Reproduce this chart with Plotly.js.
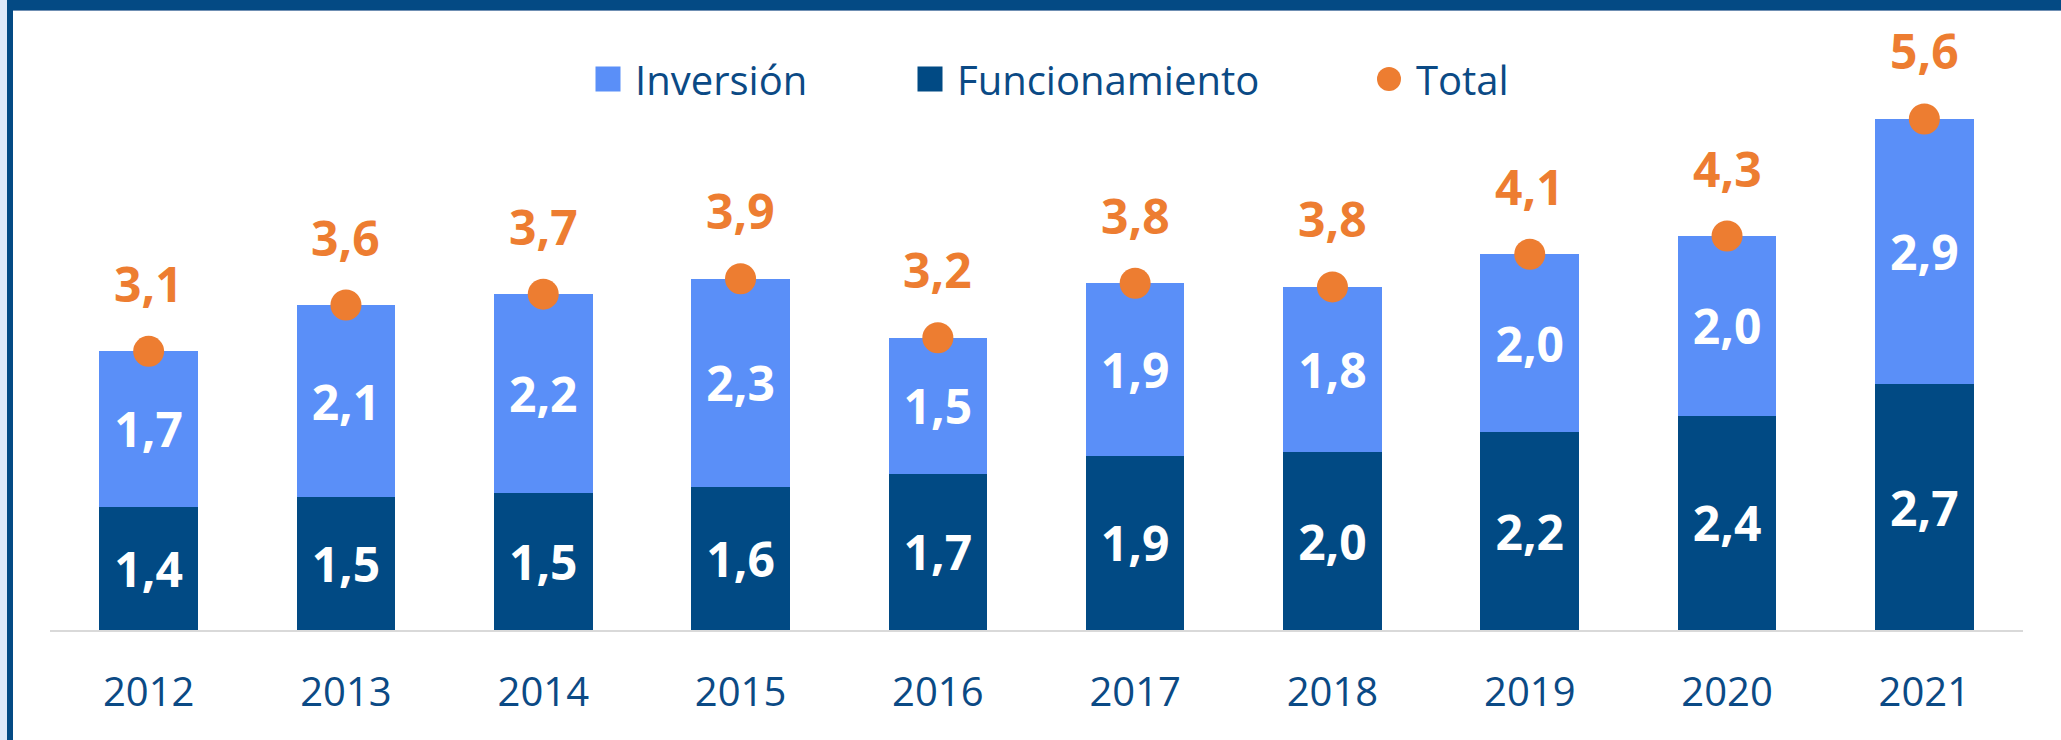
<!DOCTYPE html>
<html>
<head>
<meta charset="utf-8">
<script src="https://cdn.plot.ly/plotly-3.0.1.min.js"></script>
<style>
  html, body { margin: 0; padding: 0; background: #ffffff; }
  #wrap { position: relative; width: 2061px; height: 740px; overflow: hidden; background: #ffffff; }
  #chart { position: absolute; left: 0; top: 0; width: 2061px; height: 740px; }
  .strip { position: absolute; z-index: 5; }
</style>
</head>
<body>
<div id="wrap">
  <div id="chart"></div>
  <div class="strip" style="left:0;top:0;width:7px;height:740px;background:#dfe9f9;"></div>
  <div class="strip" style="left:7px;top:0;width:6px;height:740px;background:#044a84;"></div>
  <div class="strip" style="left:7px;top:0;width:2054px;height:10px;background:#044a84;"></div>
  <div class="strip" style="left:13px;top:10px;width:2048px;height:1px;background:#6f8fb3;"></div>
</div>
<script>
// ---- data (billones) ----
const years = ['2012','2013','2014','2015','2016','2017','2018','2019','2020','2021'];
const funcionamiento = [1.36, 1.46, 1.51, 1.58, 1.72, 1.92, 1.96, 2.18, 2.36, 2.71];
const inversion      = [1.71, 2.12, 2.19, 2.29, 1.50, 1.90, 1.82, 1.96, 1.98, 2.92];
const total = funcionamiento.map((v, i) => Math.round((v + inversion[i]) * 100) / 100);

const DARK = '#014a84';
const LIGHT = '#5a8ff8';
const ORANGE = '#ed7d31';
const TXT = '#0b4a85';
const FONT = 'Open Sans, Noto Sans, sans-serif';

const fmt = v => (Math.round(v * 10) / 10).toFixed(1).replace('.', ',');

const traces = [
  {
    type: 'bar', name: 'Funcionamiento', x: years, y: funcionamiento,
    marker: { color: DARK },
    texttemplate: '%{y:.1f}', textposition: 'inside', insidetextanchor: 'middle',
    textangle: 0, constraintext: 'none',
    textfont: { family: FONT, size: 48, color: '#ffffff', weight: 'bold' },
    legend: 'legend2', hoverinfo: 'skip'
  },
  {
    type: 'bar', name: 'Inversión', x: years, y: inversion,
    marker: { color: LIGHT },
    texttemplate: '%{y:.1f}', textposition: 'inside', insidetextanchor: 'middle',
    textangle: 0, constraintext: 'none',
    textfont: { family: FONT, size: 48, color: '#ffffff', weight: 'bold' },
    legend: 'legend', hoverinfo: 'skip'
  },
  {
    type: 'scatter', mode: 'markers', name: 'Total', x: years, y: total,
    marker: { color: ORANGE, size: 31 },
    cliponaxis: false,
    legend: 'legend3', hoverinfo: 'skip'
  }
];

// category axis: annotation x uses the category index
const annotations = years.map((yr, i) => ({
  x: i, y: total[i], xref: 'x', yref: 'y',
  text: fmt(total[i]), showarrow: false,
  yanchor: 'middle', xanchor: 'center', yshift: 68,
  font: { family: FONT, size: 48, color: ORANGE, weight: 'bold' }
}));

const legendBase = {
  orientation: 'h', yanchor: 'middle', y: 0.934, xanchor: 'left',
  bgcolor: 'rgba(0,0,0,0)', borderwidth: 0, itemwidth: 44,
  font: { family: FONT, size: 40, color: TXT }
};
const px2paper = p => (p - 50) / 1973;

const layout = {
  width: 2061, height: 740,
  margin: { l: 50, r: 38, t: 40, b: 110 },
  paper_bgcolor: '#ffffff', plot_bgcolor: '#ffffff',
  separators: ',.',
  barmode: 'stack', bargap: 0.5,
  showlegend: true,
  legend:  Object.assign({}, legendBase, { x: px2paper(610 - 29) }),
  legend2: Object.assign({}, legendBase, { x: px2paper(932 - 29) }),
  legend3: Object.assign({}, legendBase, { x: px2paper(1391 - 29) }),
  xaxis: {
    type: 'category', range: [-0.5, years.length - 0.5],
    showgrid: false, zeroline: false,
    showline: true, linecolor: '#d9d9d9', linewidth: 2,
    ticks: 'outside', ticklen: 26, tickcolor: 'rgba(0,0,0,0)',
    tickfont: { family: FONT, size: 40, color: TXT }
  },
  yaxis: {
    range: [0, 6.5], visible: false, showgrid: false, zeroline: false, fixedrange: true
  },
  annotations: annotations
};

Plotly.newPlot('chart', traces, layout, { staticPlot: true, displayModeBar: false }).then(() => {
  document.querySelectorAll('.legendpoints path').forEach(p => {
    const bb = p.getBBox();
    if (!bb.width) return;
    const isBar = p.getAttribute('d').indexOf('H') >= 0;
    const target = isBar ? 25 : 24;
    const s = target / bb.width;
    const cx = bb.x + bb.width / 2, cy = bb.y + bb.height / 2;
    const t = p.getAttribute('transform') || '';
    p.setAttribute('transform', t + ' translate(' + cx + ',' + cy + ') scale(' + s + ') translate(' + (-cx) + ',' + (-cy) + ')');
  });
});
</script>
</body>
</html>
